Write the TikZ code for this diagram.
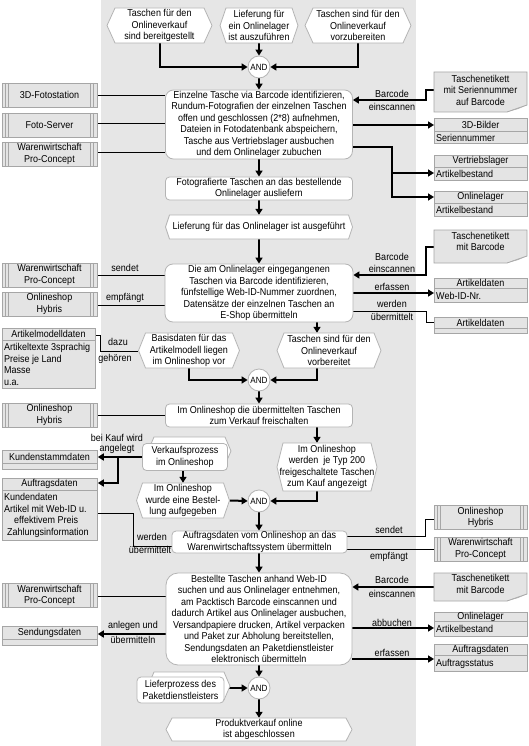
\documentclass[tikz,border=0pt]{standalone}
\usepackage{fontspec}
\setmainfont{Liberation Sans}[FakeStretch=0.9]
\usetikzlibrary{arrows.meta}
\definecolor{panel}{HTML}{E6E6E6}
\definecolor{boxf}{HTML}{E4E4E4}
\definecolor{boxb}{HTML}{A6A6A6}
\definecolor{evb}{HTML}{B4B4B4}
\definecolor{curl}{HTML}{B0B0B0}
\pgfdeclarelayer{panellayer}
\pgfdeclarelayer{conn}
\pgfsetlayers{panellayer,conn,main}
\tikzset{
 txt/.style={align=center, inner sep=0pt},
 fn/.style={draw=evb, fill=white, align=center, inner sep=0pt, line width=0.8pt},
 andn/.style={circle, draw=evb, fill=white, minimum size=22pt, inner sep=0pt, font=\fontsize{9}{10}\selectfont, line width=0.8pt},
 sys/.style={draw=boxb, fill=boxf, align=center, inner sep=0pt, minimum width=95pt, minimum height=24pt, line width=0.8pt,
   path picture={\foreach \d in {3.3,6.6}{
     \draw[boxb,line width=0.8pt] ([xshift=\d pt]path picture bounding box.north west) -- ([xshift=\d pt]path picture bounding box.south west);
     \draw[boxb,line width=0.8pt] ([xshift=-\d pt]path picture bounding box.north east) -- ([xshift=-\d pt]path picture bounding box.south east);}}},
 arr/.style={line width=2pt, -{Triangle[length=6pt,width=7pt]}},
 thinline/.style={line width=1pt},
 lbl/.style={inner sep=0pt},
}
% hexagon outline: cx cy w h ext
\newcommand\HEX[5]{%
 \filldraw[fill=white, draw=evb, line width=0.8pt] ({#1-#3/2},{#2}) -- ({#1-#3/2+#5},{#2-#4/2}) -- ({#1+#3/2-#5},{#2-#4/2}) -- ({#1+#3/2},{#2}) -- ({#1+#3/2-#5},{#2+#4/2}) -- ({#1-#3/2+#5},{#2+#4/2}) -- cycle;}
% event: name cx cy w h ext text
\newcommand\EV[7]{%
 \HEX{#2}{#3}{#4}{#5}{#6}
 \node[txt, minimum width=#4pt, minimum height=#5pt] (#1) at (#2,#3) {#7};}
% information object: name x1 y1 x2 yh y2 header body
\newcommand\INFO[8]{%
 \node[draw=boxb, fill=boxf, line width=0.8pt, inner sep=0pt, anchor=north west, minimum width={(#4-#2)*1pt}, minimum height={(#6-#3)*1pt}] (#1) at (#2,#3) {};
 \draw[boxb, line width=0.8pt] (#2,#5) -- (#4,#5);
 \node[txt] (#1h) at ({(#2+#4)/2},{(#3+#5)/2}) {#7};
 \node[txt, align=left, anchor=west] (#1b) at ({#2+2},{(#5+#6)/2+0.5}) {#8};}
% document: name x1 y1 x2 y2 textoffset text
\newcommand\DOC[7]{%
 \filldraw[fill=boxf, draw=boxb, line width=0.8pt] (#2,#3) -- (#4,#3) -- (#4,{#5-7}) -- ({#4-20},{#5}) -- (#2,#5) -- cycle;
 \fill[curl] ({#4-20},{#5}) -- (#4,{#5-7}) -- ({#4-9},{#5-3}) -- cycle;
 \node[inner sep=0pt, minimum width={(#4-#2)*1pt}, minimum height={(#5-#3)*1pt}, anchor=north west] (#1) at (#2,#3) {};
 \node[txt, anchor=north] (#1t) at ({(#2+#4)/2},{#3+#6}) {#7};}

\begin{document}
\begin{tikzpicture}[x=1pt,y=-1pt,font=\fontsize{10}{11.5}\selectfont]
\useasboundingbox (0,0) rectangle (529,746);
\begin{pgfonlayer}{panellayer}
\fill[white] (0,0) rectangle (529,746);
\fill[panel] (101,0) rectangle (416,746);
\end{pgfonlayer}

\foreach \v in {90,96,100,124,125,147,153,173,197,247,275,293,305,311,322,335,351,415,457,483,513,519,536,546,549,587,596,628,634,659} \coordinate (y\v) at (0,\v);
\foreach \v in {100,118,133,183,317,392,425,426} \coordinate (x\v) at (\v,0);

% ---- process column
\EV{e1}{159.5}{25.5}{105}{35}{8}{Taschen für den\\Onlineverkauf\\sind bereitgestellt}
\EV{e2}{259}{25.5}{78}{35}{6}{Lieferung für\\ein Onlinelager\\ist auszuführen}
\EV{e3}{358}{25.5}{106}{35}{8}{Taschen sind für den\\Onlineverkauf\\vorzubereiten}
\node[andn] (a1) at (259,67) {AND};
\node[fn, rounded corners=8pt, minimum width=187pt, minimum height=69pt] (f1) at (259,124.5) {Einzelne Tasche via Barcode identifizieren,\\Rundum-Fotografien der einzelnen Taschen\\offen und geschlossen (2*8) aufnehmen,\\Dateien in Fotodatenbank abspeichern,\\Tasche aus Vertriebslager ausbuchen\\und dem Onlinelager zubuchen};
\node[fn, rounded corners=4pt, minimum width=187pt, minimum height=23pt] (f2) at (259,188.5) {Fotografierte Taschen an das bestellende\\Onlinelager ausliefern};
\EV{e4}{259}{227}{187}{24}{4}{Lieferung für das Onlinelager ist ausgeführt}
\node[fn, rounded corners=8pt, minimum width=188pt, minimum height=58pt] (f3) at (259,293) {Die am Onlinelager eingegangenen\\Taschen via Barcode identifizieren,\\fünfstellige Web-ID-Nummer zuordnen,\\Datensätze der einzelnen Taschen an\\E-Shop übermitteln};
\EV{e5}{189}{350.5}{101}{35}{7}{Basisdaten für das\\Artikelmodell liegen\\im Onlineshop vor}
\EV{e6}{329}{350.5}{104}{35}{7}{Taschen sind für den\\Onlineverkauf\\vorbereitet}
\node[andn] (a2) at (259,380) {AND};
\node[fn, rounded corners=4pt, minimum width=187pt, minimum height=23pt] (f4) at (259,415.5) {Im Onlineshop die übermittelten Taschen\\zum Verkauf freischalten};
\EV{e7}{327}{467}{100}{48}{6}{Im Onlineshop\\werden\ \ je Typ 200\\freigeschaltete Taschen\\zum Kauf angezeigt}
\HEX{189.5}{451}{83}{28}{6}
\node[fn, rounded corners=4pt, minimum width=85pt, minimum height=27pt] (p1) at (185,457) {Verkaufsprozess\\im Onlineshop};
\EV{e8}{183}{500.5}{93}{35}{6}{Im Onlineshop\\wurde eine Bestel-\\lung aufgegeben}
\node[andn] (a3) at (259,501) {AND};
\node[fn, rounded corners=4pt, minimum width=175pt, minimum height=22pt] (f5) at (259.5,542) {Auftragsdaten vom Onlineshop an das\\Warenwirtschaftssystem übermitteln};
\node[fn, rounded corners=12pt, minimum width=186pt, minimum height=92pt] (f6) at (259,619) {Bestellte Taschen anhand Web-ID\\suchen und aus Onlinelager entnehmen,\\am Packtisch Barcode einscannen und\\dadurch Artikel aus Onlinelager ausbuchen,\\Versandpapiere drucken, Artikel verpacken\\und Paket zur Abholung bereitstellen,\\Sendungsdaten an Paketdienstleister\\elektronisch übermitteln};
\HEX{189}{686}{82}{28}{6}
\node[fn, rounded corners=4pt, minimum width=87pt, minimum height=26pt] (p2) at (180.5,690) {Lieferprozess des\\Paketdienstleisters};
\node[andn] (a4) at (259,688) {AND};
\EV{e9}{259}{729.5}{186}{23}{6}{Produktverkauf online\\ist abgeschlossen}

% ---- left side
\node[sys] (s1) at (49.5,95) {3D-Fotostation};
\node[sys] (s2) at (49.5,125) {Foto-Server};
\node[sys] (s3) at (49.5,154) {Warenwirtschaft\\Pro-Concept};
\node[sys] (s4) at (49.5,275) {Warenwirtschaft\\Pro-Concept};
\node[sys] (s5) at (49.5,304) {Onlineshop\\Hybris};
\INFO{i1}{2}{328}{95}{340}{388}{Artikelmodelldaten}{Artikeltexte 3sprachig\\Preise je Land\\Masse\\u.a.}
\node[sys] (s6) at (49.5,415) {Onlineshop\\Hybris};
\INFO{i2}{2}{450}{97}{463}{469}{Kundenstammdaten}{}
\INFO{i3}{2}{478}{97}{490}{540}{Auftragsdaten}{Kundendaten\\Artikel mit Web-ID u.\\\hspace*{10pt}effektivem Preis\\\hspace*{3pt}Zahlungsinformation}
\node[sys] (s7) at (49.5,595.5) {Warenwirtschaft\\Pro-Concept};
\INFO{i4}{2}{626}{97}{639}{645}{Sendungsdaten}{}

% ---- right side
\DOC{d1}{434}{72}{527}{112}{3}{Taschenetikett\\mit Seriennummer\\auf Barcode}
\INFO{i5}{434}{118}{527}{131}{143}{3D-Bilder}{Seriennummer}
\INFO{i6}{434}{155}{527}{167}{180}{Vertriebslager}{Artikelbestand}
\INFO{i7}{434}{191}{527}{203}{216}{Onlinelager}{Artikelbestand}
\DOC{d2}{434}{230}{527}{263}{2}{Taschenetikett\\mit Barcode}
\INFO{i8}{434}{278}{527}{288}{302}{Artikeldaten}{Web-ID-Nr.}
\INFO{i9}{434}{317}{527}{328}{333}{Artikeldaten}{}
\node[sys, minimum width=93pt] (s8) at (480.5,517.5) {Onlineshop\\Hybris};
\node[sys, minimum width=93pt] (s9) at (480.5,549) {Warenwirtschaft\\Pro-Concept};
\DOC{d3}{434}{573}{527}{601}{1.5}{Taschenetikett\\mit Barcode}
\INFO{i10}{434}{612}{527}{621}{636}{Onlinelager}{Artikelbestand}
\INFO{i11}{434}{644}{527}{655}{671}{Auftragsdaten}{Auftragsstatus}

% ---- labels
\node[lbl] (l1) at (125,268) {sendet};
\node[lbl] (l2) at (125,298) {empfängt};
\node[lbl] (l3) at (118,342) {dazu};
\node[lbl] (l4) at (115,359) {gehören};
\node[lbl] (l5) at (117,438) {bei Kauf wird};
\node[lbl] (l6) at (117,449) {angelegt};
\node[lbl] (l7) at (152,537) {werden};
\node[lbl] (l8) at (150,550) {übermittelt};
\node[lbl] (l9) at (133,626) {anlegen und};
\node[lbl] (l10) at (133,640) {übermitteln};
\node[lbl] (r1) at (392,94) {Barcode};
\node[lbl] (r2) at (392,107) {einscannen};
\node[lbl] (r3) at (392,257) {Barcode};
\node[lbl] (r4) at (392,269) {einscannen};
\node[lbl] (r5) at (392,287) {erfassen};
\node[lbl] (r6) at (392,304) {werden};
\node[lbl] (r7) at (392,317) {übermittelt};
\node[lbl] (r8) at (389,530) {sendet};
\node[lbl] (r9) at (389,557) {empfängt};
\node[lbl] (r10) at (392,580) {Barcode};
\node[lbl] (r11) at (392,594) {einscannen};
\node[lbl] (r12) at (392,623) {abbuchen};
\node[lbl] (r13) at (392,653) {erfassen};

% ---- connectors
\begin{pgfonlayer}{conn}
\draw[arr] (e1.south) |- (a1.west);
\draw[arr] (e2.south) -- (a1.north);
\draw[arr] (e3.south) |- (a1.east);
\draw[arr] (a1.south) -- (f1.north);
\draw[arr] (f1.south) -- (f2.north);
\draw[arr] (f2.south) -- (e4.north);
\draw[arr] (e4.south) -- (f3.north);
\draw[arr] (f3.south -| x317) -- (e6.north -| x317);
\draw[arr] (e5.south) |- (a2.west);
\draw[arr] (e6.south -| x317) |- (a2.east);
\draw[arr] (a2.south) -- (f4.north);
\draw[arr] (f4.south -| x317) -- (e7.north -| x317);
\draw[arr] (p1.south -| x183) -- (e8.north -| x183);
\draw[arr] (e8.east) -- (a3.west);
\draw[arr] (e7.south -| x317) |- (a3.east);
\draw[arr] (a3.south) -- (f5.north -| a3.south);
\draw[arr] (f5.south -| f6.north) -- (f6.north);
\draw[arr] (f6.south) -- (a4.north);
\draw[arr] (p2.east |- a4.west) -- (a4.west);
\draw[arr] (a4.south) -- (e9.north);
% left
\draw[thinline] (s1.east |- y96) -- (f1.west |- y96);
\draw[thinline] (s2.east |- y124) -- (f1.west |- y124);
\draw[thinline] (s3.east |- y153) -- (f1.west |- y153);
\draw[thinline] (s4.east |- y275) -- (f3.west |- y275);
\draw[thinline] (s5.east |- y305) -- (f3.west |- y305);
\draw[thinline] (i1.east |- y335) -| (x100 |- y351) -- (e5.west |- y351);
\draw[thinline] (s6.east |- y415) -- (f4.west |- y415);
\draw[arr] (p1.west |- y457) -- (i2.east |- y457);
\draw[arr] (x118 |- y457) |- (i3.east |- y483);
\draw[thinline] (i3.east |- y513) -| (x133 |- y546) -- (f5.west |- y546);
\draw[thinline] (s7.east |- y596) -- (f6.west |- y596);
\draw[arr] (f6.west |- y634) -- (i4.east |- y634);
% right
\draw[arr] (d1.west |- y90) -| (x426 |- y100) -- (f1.east |- y100);
\draw[arr] (f1.east |- y125) -- (i5.west |- y125);
\draw[arr] (f1.east |- y147) -| (x392 |- y197) -- (i7.west |- y197);
\draw[arr] (x392 |- y173) -- (i6.west |- y173);
\draw[arr] (d2.west |- y247) -| (x426 |- y275) -- (f3.east |- y275);
\draw[arr] (f3.east |- y293) -- (i8.west |- y293);
\draw[thinline] (f3.east |- y311) -| (x426 |- y322) -- (i9.west |- y322);
\draw[thinline] (f5.east |- y536) -| (x425 |- y519) -- (s8.west |- y519);
\draw[thinline] (f5.east |- y549) -- (s9.west |- y549);
\draw[arr] (d3.west |- y587) -- (f6.east |- y587);
\draw[arr] (f6.east |- y628) -- (i10.west |- y628);
\draw[arr] (f6.east |- y659) -- (i11.west |- y659);
\end{pgfonlayer}
\end{tikzpicture}
\end{document}
